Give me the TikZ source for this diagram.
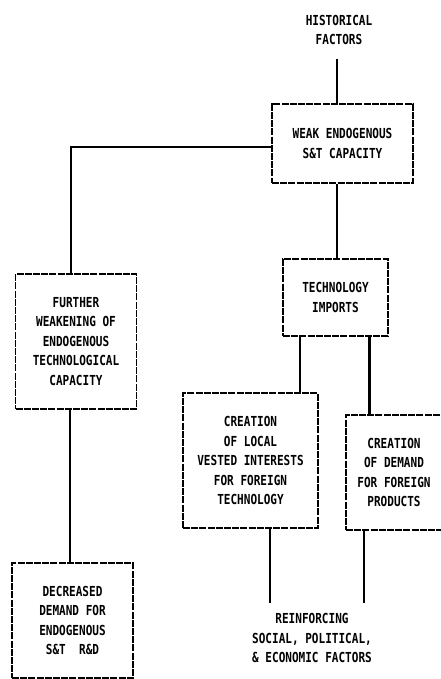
\documentclass[tikz,border=0pt]{standalone}
\usepackage{fontspec}
\newfontfamily\lpfont[FakeStretch=0.8]{DejaVu Sans Mono}
\begin{document}
\begin{tikzpicture}[x=1pt,y=-1pt,
  every node/.style={font=\lpfont\bfseries\fontsize{13.8}{19.5}\selectfont, align=center, inner sep=0pt},
  boxnode/.style={draw, line width=1.8pt, dash pattern=on 7pt off 1.2pt, minimum width=#1},
  conn/.style={line width=2.6pt}]
\useasboundingbox (0,0) rectangle (440,679);
% text labels
\node (hist) at (339,30) {HISTORICAL\\FACTORS};
\node (reinf) at (312,638) {REINFORCING\\SOCIAL, POLITICAL,\\\& ECONOMIC FACTORS};
% boxes
\node[boxnode=141pt, minimum height=79pt] (weak) at (342.5,143.5) {WEAK ENDOGENOUS\\S\&T CAPACITY};
\node[boxnode=105pt, minimum height=77pt] (tech) at (335.5,297.5) {TECHNOLOGY\\IMPORTS};
\node[boxnode=121pt, minimum height=135pt] (further) at (76,341.5) {FURTHER\\WEAKENING OF\\ENDOGENOUS\\TECHNOLOGICAL\\CAPACITY};
\node[boxnode=121pt, minimum height=115pt] (decr) at (72.5,620.5) {DECREASED\\DEMAND FOR\\ENDOGENOUS\\S\&T\ \ R\&D};
\node[boxnode=135pt, minimum height=135pt] (local) at (250.5,460.5) {CREATION\\OF LOCAL\\VESTED INTERESTS\\FOR FOREIGN\\TECHNOLOGY};
\node[boxnode=96pt, minimum height=115pt] (demand) at (394,472.5) {CREATION\\OF DEMAND\\FOR FOREIGN\\PRODUCTS};
% connector anchors
\coordinate (h0) at (337,59);
\coordinate (w0) at (337,147);
\coordinate (fl) at (71,400);
\coordinate (dl) at (70,400);
\coordinate (t1) at (300,0);
\coordinate (t2) at (369.5,0);
\coordinate (r1) at (270,603);
\coordinate (r2) at (364,603);
% connectors
\draw[conn] (h0) -- (h0 |- weak.north);
\draw[conn] (w0 -| weak.west) -| (fl |- further.north);
\draw[conn] (h0 |- weak.south) -- (h0 |- tech.north);
\draw[conn] (dl |- further.south) -- (dl |- decr.north);
\draw[conn] (t1 |- tech.south) -- (t1 |- local.north);
\draw[conn] (t2 |- tech.south) -- (t2 |- demand.north);
\draw[conn] (r1 |- local.south) -- (r1);
\draw[conn] (r2 |- demand.south) -- (r2);
\end{tikzpicture}
\end{document}
